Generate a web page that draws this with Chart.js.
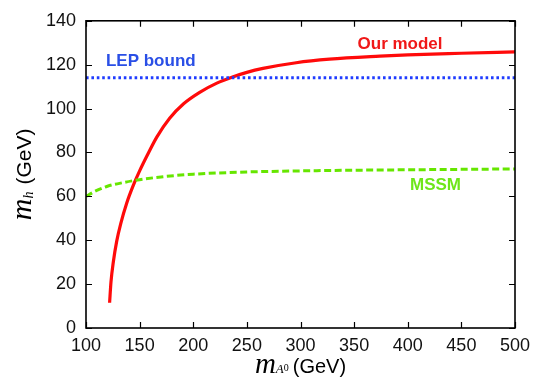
<!DOCTYPE html>
<html>
<head>
<meta charset="utf-8">
<script src="https://cdn.jsdelivr.net/npm/chart.js@4/dist/chart.umd.min.js"></script>
<style>
  html, body { margin: 0; padding: 0; background: #fff; }
  #wrap { width: 538px; height: 383px; }
</style>
</head>
<body>
<div id="wrap"><canvas id="c" width="538" height="383"></canvas></div>
<script>
// Light Higgs mass m_h versus pseudoscalar mass m_A0 (GeV)
const modelMA = [122, 123.3, 125.5, 128.6, 132.4, 138, 144, 150, 157, 166, 178, 191, 206, 222, 236, 250, 265, 296, 327, 374, 400, 450, 500];
const modelMh = [11.5, 21.0, 30.2, 39.5, 47.6, 57.0, 64.9, 71.6, 78.6, 87.0, 95.6, 102.2, 107.4, 111.6, 114.3, 116.5, 118.3, 120.9, 122.5, 123.9, 124.5, 125.2, 125.8];

const mssmMA = [100, 108, 120, 135, 150, 175, 200, 250, 300, 350, 400, 450, 500];
const mssmMh = [60, 62.2, 64.6, 66.3, 67.6, 69.1, 70.1, 71.1, 71.6, 71.9, 72.1, 72.3, 72.5];

const lepMA = [100, 500];
const lepMh = [114, 114];

const xTicks = [100, 150, 200, 250, 300, 350, 400, 450, 500];
const yTicks = [0, 20, 40, 60, 80, 100, 120, 140];

const pts = (xs, ys) => xs.map((x, i) => ({ x: x, y: ys[i] }));

const SANS = "'Liberation Sans', Arial, Helvetica, sans-serif";
const SERIF = "'Liberation Serif', 'Times New Roman', serif";

// text tags placed in data coordinates
const tags = [
  { text: 'LEP bound', x: 118.6, y: 121.4, align: 'left',   color: '#2a4fe6' },
  { text: 'Our model', x: 392.8, y: 129.3, align: 'center', color: '#f01818' },
  { text: 'MSSM',      x: 425.9, y: 64.9,  align: 'center', color: '#6ee61a' }
];

// inward ticks on all four sides, frame, tags and mixed-font axis titles
const decor = {
  id: 'decor',
  afterDatasetsDraw(chart) {
    const ctx = chart.ctx;
    const a = chart.chartArea;
    const xs = chart.scales.x, ys = chart.scales.y;
    ctx.save();
    ctx.strokeStyle = '#000';
    ctx.lineWidth = 1.2;
    const tl = 6;
    xTicks.forEach(v => {
      const px = Math.round(xs.getPixelForValue(v)) + 0.5;
      ctx.beginPath();
      ctx.moveTo(px, a.bottom); ctx.lineTo(px, a.bottom - tl);
      ctx.moveTo(px, a.top); ctx.lineTo(px, a.top + tl);
      ctx.stroke();
    });
    yTicks.forEach(v => {
      const py = Math.round(ys.getPixelForValue(v)) + 0.5;
      ctx.beginPath();
      ctx.moveTo(a.left, py); ctx.lineTo(a.left + tl, py);
      ctx.moveTo(a.right, py); ctx.lineTo(a.right - tl, py);
      ctx.stroke();
    });
    ctx.lineWidth = 1.6;
    ctx.strokeRect(a.left, a.top, a.right - a.left, a.bottom - a.top);

    ctx.font = 'bold 17px ' + SANS;
    ctx.textBaseline = 'middle';
    tags.forEach(t => {
      ctx.fillStyle = t.color;
      ctx.textAlign = t.align;
      ctx.fillText(t.text, xs.getPixelForValue(t.x), ys.getPixelForValue(t.y));
    });

    ctx.fillStyle = '#000';
    ctx.textAlign = 'left';
    ctx.textBaseline = 'alphabetic';
    const drawRuns = (runs, cx, cy) => {
      let w = 0;
      runs.forEach(r => { ctx.font = r.font; r.w = ctx.measureText(r.t).width; w += r.w + (r.gap || 0); });
      let x = cx - w / 2;
      runs.forEach(r => { ctx.font = r.font; ctx.fillText(r.t, x, cy + (r.dy || 0)); x += r.w + (r.gap || 0); });
    };
    // x title: m_{A0} (GeV)
    drawRuns([
      { t: 'm', font: 'italic 29px ' + SERIF },
      { t: 'A', font: 'italic 13px ' + SERIF, dy: 0 },
      { t: '0', font: '10px ' + SERIF, dy: -2, gap: 4 },
      { t: '(GeV)', font: '20px ' + SANS }
    ], (a.left + a.right) / 2, 373);
    // y title: m_h (GeV)
    ctx.translate(31, (a.top + a.bottom) / 2);
    ctx.rotate(-Math.PI / 2);
    drawRuns([
      { t: 'm', font: 'italic 30px ' + SERIF },
      { t: 'h', font: 'italic 14px ' + SERIF, dy: 2, gap: 7 },
      { t: '(GeV)', font: '21px ' + SANS }
    ], 0, 0);
    ctx.restore();
  }
};

new Chart(document.getElementById('c'), {
  type: 'line',
  data: {
    datasets: [
      {
        label: 'LEP bound',
        data: pts(lepMA, lepMh),
        borderColor: '#1f3cff',
        borderWidth: 3,
        borderDash: [2.6, 2.8],
        pointRadius: 0
      },
      {
        label: 'MSSM',
        data: pts(mssmMA, mssmMh),
        borderColor: '#66e600',
        borderWidth: 3,
        borderDash: [7, 3.5],
        pointRadius: 0,
        cubicInterpolationMode: 'monotone'
      },
      {
        label: 'Our model',
        data: pts(modelMA, modelMh),
        borderColor: '#ff0a0a',
        borderWidth: 3.2,
        pointRadius: 0,
        cubicInterpolationMode: 'monotone'
      }
    ]
  },
  options: {
    responsive: false,
    animation: false,
    events: [],
    layout: { padding: { top: 17, right: 23, left: 0, bottom: 0 } },
    plugins: { legend: { display: false }, tooltip: { enabled: false } },
    scales: {
      x: {
        type: 'linear',
        min: 100, max: 500,
        afterFit(s) { s.height = 55; },
        afterBuildTicks(s) { s.ticks = xTicks.map(v => ({ value: v })); },
        grid: { display: false, drawTicks: false },
        border: { display: false },
        ticks: { padding: 7, color: '#111', font: { size: 18, family: SANS } }
      },
      y: {
        type: 'linear',
        min: 0, max: 140,
        afterFit(s) { s.width = 86; },
        afterBuildTicks(s) { s.ticks = yTicks.map(v => ({ value: v })); },
        grid: { display: false, drawTicks: false },
        border: { display: false },
        ticks: { padding: 10, color: '#111', font: { size: 18, family: SANS } }
      }
    }
  },
  plugins: [decor]
});
</script>
</body>
</html>
